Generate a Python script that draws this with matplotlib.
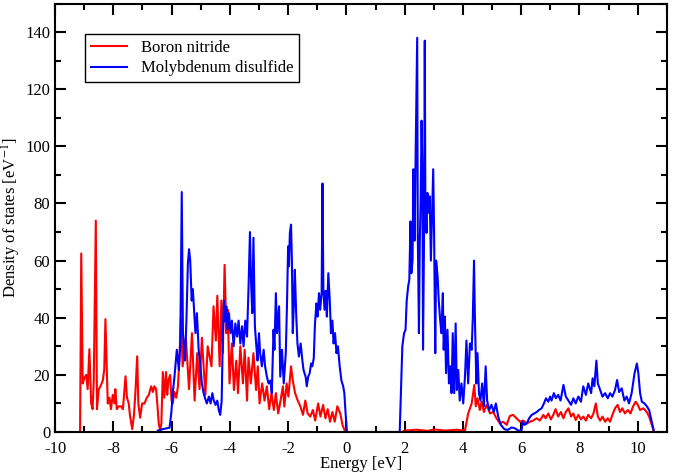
#!/usr/bin/env python3
import matplotlib
matplotlib.use('Agg')
import matplotlib.pyplot as plt
from matplotlib.ticker import MultipleLocator

# density of states
bn_energy = [-9.14, -9.10, -9.05, -8.99, -8.93, -8.88, -8.82, -8.76, -8.71, -8.67,
             -8.60, -8.56, -8.50, -8.44, -8.36, -8.31, -8.27, -8.22, -8.19, -8.13,
             -8.08, -8.02, -7.96, -7.93, -7.88, -7.81, -7.73, -7.67, -7.58, -7.53,
             -7.47, -7.43, -7.35, -7.29, -7.24, -7.18, -7.14, -7.08, -7.01, -6.93,
             -6.85, -6.78, -6.70, -6.64, -6.59, -6.53, -6.49, -6.44, -6.39, -6.35,
             -6.30, -6.25, -6.19, -6.15, -6.11, -6.05, -6.00, -5.96, -5.90, -5.84,
             -5.78, -5.73, -5.68, -5.62, -5.51, -5.40, -5.30, -5.21, -5.12, -5.04,
             -4.96, -4.84, -4.76, -4.63, -4.56, -4.48, -4.43, -4.35, -4.29, -4.24,
             -4.18, -4.12, -4.07, -4.01, -3.93, -3.86, -3.78, -3.72, -3.64, -3.55,
             -3.49, -3.41, -3.36, -3.28, -3.19, -3.10, -3.04, -2.98, -2.89, -2.81,
             -2.73, -2.65, -2.57, -2.49, -2.42, -2.34, -2.26, -2.18, -2.13, -2.05,
             -1.99, -1.90, -1.84, -1.76, -1.67, -1.58, -1.49, -1.41, -1.33, -1.24,
             -1.15, -1.07, -0.97, -0.89, -0.80, -0.72, -0.64, -0.56, -0.48, -0.40,
             -0.31, -0.21, -0.13, -0.06, 0.00,
             1.90, 2.00, 2.40, 2.80, 3.00, 3.40, 3.80, 4.07, 4.18, 4.30,
             4.39, 4.44, 4.50, 4.58, 4.64, 4.72, 4.81, 4.93, 5.04, 5.15,
             5.27, 5.38, 5.50, 5.61, 5.72, 5.84, 5.96, 6.07, 6.19, 6.30,
             6.41, 6.53, 6.64, 6.76, 6.84, 6.93, 7.02, 7.10, 7.18, 7.27,
             7.36, 7.45, 7.53, 7.62, 7.71, 7.79, 7.87, 7.96, 8.05, 8.13,
             8.22, 8.30, 8.40, 8.48, 8.56, 8.63, 8.71, 8.79, 8.88, 8.97,
             9.05, 9.13, 9.22, 9.31, 9.39, 9.47, 9.56, 9.66, 9.75, 9.84,
             9.93, 10.00, 10.08, 10.19, 10.31, 10.39, 10.48, 10.56]
bn_dos = [0, 62.5, 17, 19, 20, 15, 29, 10, 8, 18,
          74, 8, 15, 16, 18, 22, 39.5, 21, 10, 12,
          8, 13, 10, 15, 8, 9, 9, 8, 19.5, 12,
          10, 6, 1, 6, 14, 26.5, 10, 5, 10, 10,
          12, 13, 16, 14, 16, 15, 10, 3, 0.5, 3,
          21, 12, 21, 13, 18, 20, 11, 10, 14, 12,
          16, 26, 40, 23, 33, 15, 34.6, 11, 27.6, 15,
          33, 13, 30, 23, 44, 32, 47.7, 23, 46, 27.6,
          58.5, 34.6, 42.8, 17, 31, 14.7, 25, 13.6, 30, 17,
          28.8, 11, 26, 17, 27.6, 14.7, 23, 10, 17, 11,
          16, 8, 13.6, 7.7, 13.6, 6.5, 11, 16, 8.9, 17,
          12.4, 23, 18, 13.6, 11, 9, 6, 11, 6.5, 5.4,
          7.7, 4, 10, 5.4, 9.5, 4.8, 8, 3.6, 7, 3.6,
          9, 6.5, 2.3, 0.6, 0,
          0, 0.5, 0.8, 0.4, 0.9, 0.5, 0.8, 0.5, 6.5, 10,
          16.5, 9, 11.8, 7.7, 10.6, 7, 9.5, 6.5, 7, 4.8,
          3, 3.6, 2.5, 5.6, 6, 4.8, 3.6, 4, 3, 3.6,
          4, 4.8, 4, 6, 4.8, 6.5, 4.4, 6, 8, 5.4,
          7, 4.8, 7, 8.3, 5.4, 6.5, 4.2, 6, 4.4, 5.4,
          4, 6, 4.8, 6.5, 10, 5.4, 4, 5.4, 3.6, 4.8,
          3.6, 6, 8.3, 9.5, 7, 8.3, 6.5, 7.7, 6.5, 9,
          10.6, 9.5, 7.7, 8.3, 7, 5.4, 2.5, 0]

mos2_energy = [-6.47, -6.30, -6.07, -6.01, -5.96, -5.90, -5.82, -5.75, -5.70, -5.65,
               -5.61, -5.54, -5.49, -5.44, -5.40, -5.36, -5.31, -5.27, -5.22, -5.18,
               -5.13, -5.07, -5.02, -4.96, -4.90, -4.85, -4.79, -4.72, -4.66, -4.60,
               -4.55, -4.49, -4.43, -4.38, -4.33, -4.28, -4.24, -4.20, -4.16, -4.12,
               -4.08, -4.03, -3.98, -3.93, -3.87, -3.81, -3.75, -3.70, -3.64, -3.58,
               -3.53, -3.47, -3.41, -3.36, -3.31, -3.27, -3.23, -3.19, -3.14, -3.09,
               -3.05, -3.00, -2.96, -2.90, -2.84, -2.79, -2.73, -2.67, -2.61, -2.56,
               -2.50, -2.47, -2.42, -2.38, -2.31, -2.27, -2.21, -2.15, -2.08, -2.04,
               -2.00, -1.97, -1.94, -1.90, -1.87, -1.84, -1.80, -1.77, -1.72, -1.68,
               -1.63, -1.57, -1.51, -1.47, -1.40, -1.36, -1.31, -1.26, -1.21, -1.17,
               -1.12, -1.08, -1.03, -0.99, -0.94, -0.90, -0.85, -0.82, -0.79, -0.75,
               -0.71, -0.67, -0.62, -0.57, -0.53, -0.48, -0.44, -0.39, -0.34, -0.29,
               -0.23, -0.17, -0.11, -0.07, -0.02, 0.02,
               1.83, 1.92, 1.98, 2.03, 2.07, 2.12, 2.16, 2.20, 2.23, 2.27,
               2.30, 2.34, 2.37, 2.41, 2.43, 2.45, 2.49, 2.52, 2.55, 2.58,
               2.61, 2.63, 2.67, 2.69, 2.71, 2.75, 2.78, 2.83, 2.86, 2.90,
               2.94, 2.98, 3.01, 3.05, 3.08, 3.13, 3.17, 3.22, 3.26, 3.31,
               3.34, 3.38, 3.42, 3.47, 3.52, 3.56, 3.61, 3.65, 3.70, 3.75,
               3.79, 3.84, 3.89, 3.95, 4.01, 4.07, 4.12, 4.18, 4.24, 4.30,
               4.34, 4.38, 4.41, 4.46, 4.50, 4.55, 4.60, 4.66, 4.72, 4.78,
               4.83, 4.90, 4.98, 5.06, 5.13, 5.21, 5.30, 5.42, 5.53, 5.67,
               5.78, 5.90, 6.01, 6.05, 6.11, 6.19, 6.27, 6.36, 6.45, 6.53,
               6.61, 6.70, 6.78, 6.85, 6.93, 6.99, 7.04, 7.12, 7.19, 7.27,
               7.35, 7.45, 7.53, 7.62, 7.71, 7.79, 7.87, 7.96, 8.05, 8.13,
               8.22, 8.30, 8.40, 8.45, 8.51, 8.58, 8.63, 8.71, 8.79, 8.88,
               8.97, 9.05, 9.13, 9.22, 9.29, 9.36, 9.45, 9.54, 9.62, 9.70,
               9.79, 9.89, 9.97, 10.02, 10.08, 10.14, 10.23, 10.31, 10.39, 10.48,
               10.56]
mos2_dos = [0.5, 1, 1.5, 6.5, 13.6, 19.4, 28.8, 21.7, 31, 84,
            34.6, 25, 39, 59, 64, 60, 46, 50, 41.6, 34.6,
            41.6, 28.8, 24, 17, 13.6, 11.8, 10, 12.4, 10, 13.6,
            11, 9.5, 11, 7.7, 6, 11, 34.6, 46, 38.7, 44,
            35.8, 41.6, 34.6, 39, 30, 38, 33.4, 39, 31, 37,
            30, 39, 33.4, 50, 70, 52, 41.6, 68, 37, 30,
            25, 34.6, 27.6, 23, 28.8, 23, 19.4, 17, 18, 13.6,
            35.8, 28.8, 48.6, 34.6, 44, 19.4, 28.8, 17, 27.6, 44,
            65, 58, 69.7, 72.6, 60, 34.6, 46, 56.8, 40.4, 31,
            26.4, 31, 25, 21.7, 19.4, 16, 19.4, 20.6, 24, 23,
            25.8, 37.5, 45, 40.4, 48.6, 42.8, 48.6, 87, 49.8, 42.8,
            49.4, 40.4, 55.6, 46, 34.6, 39, 31, 34.6, 27.6, 30,
            23, 18, 16, 13.6, 5.4, 0,
            0, 30, 34.6, 35.8, 46, 51, 53.3, 73.7, 55.6, 60,
            92, 67, 92, 122, 138, 69.7, 34.6, 67, 81, 109,
            90.7, 28.8, 74, 137, 81, 69.7, 83.7, 76.7, 82.5, 60,
            76.7, 92, 69.7, 27.6, 60, 54.5, 46, 39, 34.6, 48.6,
            28.8, 40.4, 20.6, 35.8, 17, 23, 13.6, 34.6, 13.6, 38,
            14.7, 21.7, 11, 17, 10, 19.4, 32, 17, 31, 28.8,
            40.4, 60, 40.4, 17, 27.6, 13.6, 11, 17, 9, 23,
            11, 7.7, 9.5, 7, 10, 5.4, 2.5, 1, 0.7, 1.6,
            1.3, 0.5, 0.5, 3.6, 2.5, 3, 4.8, 6, 6.5, 7,
            7.7, 8.3, 10, 11.8, 10.6, 12.4, 11, 13.6, 11.8, 13,
            11, 16.5, 12.4, 11, 9.5, 11.8, 10, 12.4, 10.6, 16,
            13, 17, 13.6, 18.8, 16, 25, 17, 14.7, 12.4, 13.6,
            11.8, 13.6, 12.4, 14.7, 18.2, 14, 15.3, 11, 12.4, 10,
            13.6, 20.6, 24, 20.6, 13.6, 10.6, 10, 9, 7.7, 3.6,
            0]

plt.rcParams['font.family'] = ['Liberation Serif', 'DejaVu Serif']
plt.rcParams['mathtext.fontset'] = 'stix'
plt.rcParams['axes.unicode_minus'] = False

fig = plt.figure(figsize=(6.75, 4.74), dpi=100)
ax = fig.add_axes([0.0815, 0.0886, 0.9065, 0.904])

ax.plot(bn_energy, bn_dos, color='#ff0000', lw=1.5, label='Boron nitride')
ax.plot(mos2_energy, mos2_dos, color='#0000ff', lw=1.5, label='Molybdenum disulfide')

ax.set_xlim(-10, 11)
ax.set_ylim(0, 150)
ax.xaxis.set_major_locator(MultipleLocator(2))
ax.xaxis.set_minor_locator(MultipleLocator(1))
ax.set_yticks([0, 20, 40, 60, 80, 100, 120, 140])
ax.yaxis.set_minor_locator(MultipleLocator(10))
ax.tick_params(which='both', direction='in', top=True, right=True, width=1.5, labelsize=12)
ax.tick_params(which='major', length=8)
ax.tick_params(which='minor', length=4.5)
ax.tick_params(axis='x', pad=6.5)
for s in ax.spines.values():
    s.set_linewidth(1.5)

ax.set_xlabel('Energy [eV]', fontsize=12, labelpad=-1)
ax.set_ylabel('Density of states [eV$^{-1}$]', fontsize=12)
ax.yaxis.set_label_coords(-0.052, 0.5)

leg = ax.legend(loc='upper left', bbox_to_anchor=(0.049, 0.928), borderaxespad=0,
                fontsize=12, fancybox=False, edgecolor='black', framealpha=1,
                handlelength=2.2, labelspacing=0.25, borderpad=0.35)
leg.get_frame().set_linewidth(1.0)

fig.savefig('out.png', dpi=100)
